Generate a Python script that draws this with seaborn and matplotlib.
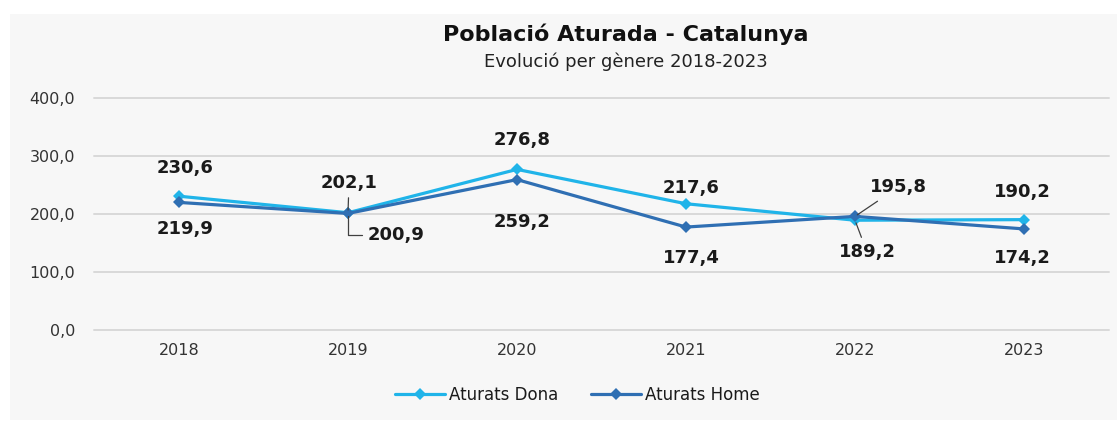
import pandas as pd
import matplotlib
matplotlib.use("Agg")
import matplotlib.pyplot as plt
from matplotlib.patches import Rectangle
import seaborn as sns

# data
years = ["2018", "2019", "2020", "2021", "2022", "2023"]
dona = [230.6, 202.1, 276.8, 217.6, 189.2, 190.2]
home = [219.9, 200.9, 259.2, 177.4, 195.8, 174.2]
series_names = ["Aturats Dona", "Aturats Home"]
y_ticks = [0, 100, 200, 300, 400]

# label placement (pixel offsets from the point), per series
dona_offsets = [(6, 28), (1, 30), (5, 29), (5, 16), (12, -32), (-2, 28)]
home_offsets = [(6, -27), (48, -22), (5, -42), (5, -31), (43, 29), (-2, -29)]

colors = {"Aturats Dona": "#20b4e9", "Aturats Home": "#2f6fb3"}
bg = "#f7f7f7"

df = pd.DataFrame({
    "year": years * 2,
    "value": dona + home,
    "serie": [series_names[0]] * len(years) + [series_names[1]] * len(years),
})

sns.set_style("white")
plt.rcParams["font.family"] = ["DejaVu Sans"]

fig = plt.figure(figsize=(11.17, 4.22), dpi=100)
fig.patches.append(Rectangle((10 / 1117, 2 / 422), 1 - 10 / 1117, 1 - 16 / 422,
                             transform=fig.transFigure, facecolor=bg,
                             edgecolor="none", zorder=-5))

ax = fig.add_axes([0.0846, 0.218, 0.9078, 0.55])
ax.set_facecolor(bg)

sns.lineplot(data=df, x="year", y="value", hue="serie", style="serie",
             palette=colors, markers=["D", "D"], dashes=False,
             linewidth=2.3, markersize=6.5, markeredgewidth=0, ax=ax)

ax.set_xlim(-0.5, len(years) - 0.5)
ax.set_ylim(0, 400)
ax.set_yticks(y_ticks)
ax.set_yticklabels([f"{v:.1f}".replace(".", ",") for v in y_ticks])
ax.set_xlabel("")
ax.set_ylabel("")
ax.grid(axis="y", color="#d9d9d9", linewidth=1.4)
for gl in ax.get_ygridlines():
    gl.set_clip_on(False)
ax.set_axisbelow(True)
for s in ax.spines.values():
    s.set_visible(False)
ax.tick_params(axis="both", length=0, labelsize=11.5, colors="#333333")
ax.tick_params(axis="y", pad=14)
ax.tick_params(axis="x", pad=9)

fmt = lambda v: f"{v:.1f}".replace(".", ",")


def put_label(i, v, off, leader=None):
    kw = dict(xy=(i, v), xytext=off, textcoords="offset pixels",
              ha="center", va="center", fontsize=13, fontweight="bold",
              color="#1a1a1a", zorder=5)
    if leader is not None:
        kw["arrowprops"] = dict(arrowstyle="-", color="#404040", lw=0.9,
                                shrinkA=2, shrinkB=2, connectionstyle=leader)
    ax.annotate(fmt(v), **kw)


for i in range(len(years)):
    dl = hl = None
    if i == 1:
        dl = "arc3"
        hl = "angle,angleA=0,angleB=90,rad=0"
    if i == 4:
        dl = "arc3"
        hl = "arc3"
    put_label(i, dona[i], dona_offsets[i], dl)
    put_label(i, home[i], home_offsets[i], hl)

handles, labels = ax.get_legend_handles_labels()
ax.get_legend().remove()
fig.legend(handles, labels, loc="center", bbox_to_anchor=(0.517, 0.064),
           ncol=2, frameon=False, fontsize=12, handlelength=3.0,
           columnspacing=2.0, handletextpad=0.2, labelcolor="#1a1a1a")

fig.text(0.56, 0.92, "Població Aturada - Catalunya", ha="center", va="center",
         fontsize=16, fontweight="bold", color="#111111")
fig.text(0.56, 0.853, "Evolució per gènere 2018-2023", ha="center", va="center",
         fontsize=13, color="#222222")

fig.savefig("out.png", dpi=100, facecolor="white")
